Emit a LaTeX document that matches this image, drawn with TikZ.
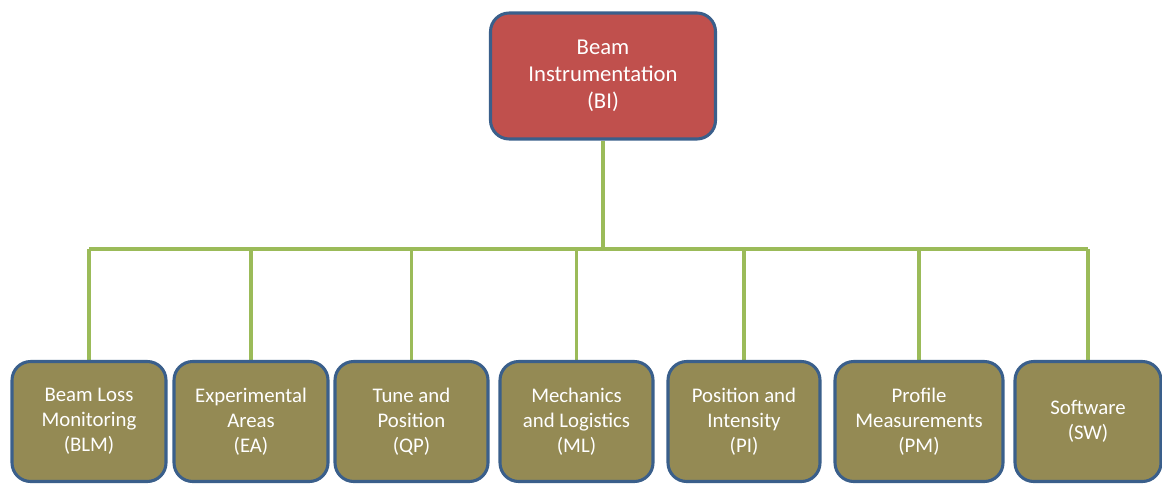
\documentclass[tikz,border=0pt]{standalone}
\usepackage{fontspec}
\setmainfont{Carlito}
\usetikzlibrary{backgrounds}
\definecolor{bired}{HTML}{C0504D}
\definecolor{olivebox}{HTML}{948A54}
\definecolor{boxborder}{HTML}{3A5F8B}
\definecolor{linkgreen}{HTML}{9BBB59}
\tikzset{
  unitbox/.style={draw=boxborder, line width=2.3pt, rounded corners=14pt,
    text=white, align=center, font=\fontsize{15.6}{18.75}\selectfont,
    inner sep=0pt, minimum height=90pt},
  topbox/.style={unitbox, fill=bired, minimum width=168.75pt, minimum height=94.5pt,
    font=\fontsize{17}{20.4}\selectfont},
  subbox/.style={unitbox, fill=olivebox},
  link/.style={draw=linkgreen, line width=2.4pt}
}
\begin{document}
\begin{tikzpicture}[x=0.75pt, y=-0.75pt]
\useasboundingbox (0,0) rectangle (1162,485);
\node[topbox] (BI) at (603,76) {Beam\\Instrumentation\\(BI)};
\coordinate (bus) at (603,249);
\node[subbox, minimum width=115.5pt] (BLM) at (89,421.5) {Beam Loss\\Monitoring\\(BLM)};
\node[subbox, minimum width=115.5pt] (EA) at (251,421.5) {Experimental\\Areas\\(EA)};
\node[subbox, minimum width=114.75pt] (QP) at (411.5,421.5) {Tune and\\Position\\(QP)};
\node[subbox, minimum width=114.75pt] (ML) at (576.5,421.5) {Mechanics\\and Logistics\\(ML)};
\node[subbox, minimum width=114pt] (PI) at (744,421.5) {Position and\\Intensity\\(PI)};
\node[subbox, minimum width=126pt] (PM) at (919,421.5) {Profile\\Measurements\\(PM)};
\node[subbox, minimum width=109.5pt] (SW) at (1088,421.5) {Software\\(SW)};
\begin{pgfonlayer}{background}
\draw[link] (BI.south) -- (BI.south |- bus);
\draw[link] (BLM.north |- bus) -- (SW.north |- bus);
\foreach \n in {BLM,EA,QP,ML,PI,PM,SW}
  \draw[link] (\n.north |- bus) -- (\n.north);
\end{pgfonlayer}
\end{tikzpicture}
\end{document}
